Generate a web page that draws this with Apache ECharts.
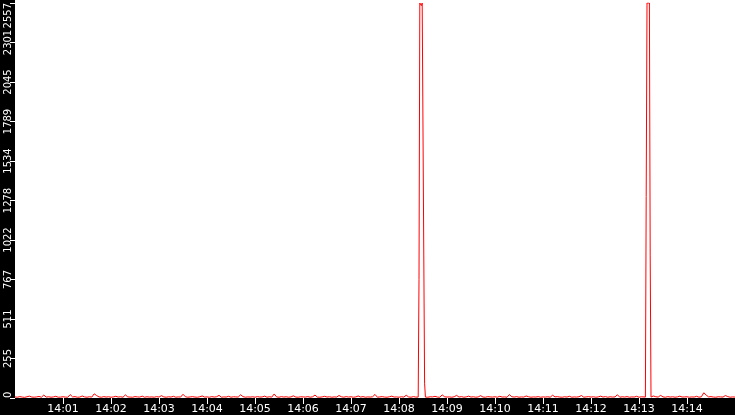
<!DOCTYPE html>
<html>
<head>
<meta charset="utf-8">
<script src="https://cdn.jsdelivr.net/npm/echarts@6/dist/echarts.min.js"></script>
<style>
  html, body { margin: 0; padding: 0; background: #fff; }
  #chart-container { width: 735px; height: 415px; }
</style>
</head>
<body>
<div id="chart-container"></div>
<script>
// x axis runs in seconds from 14:00:00 to 14:15:00
const xTickLabels = ['14:00', '14:01', '14:02', '14:03', '14:04', '14:05', '14:06', '14:07',
    '14:08', '14:09', '14:10', '14:11', '14:12', '14:13', '14:14', '14:15'];
const yTickLabels = ['0', '255', '511', '767', '1022', '1278', '1534', '1789', '2045', '2301', '2557'];

// baseline readings, one every 3 seconds from 14:00:00
const noiseStep = 3;
const noiseValues = [
    7, 5, 9, 6, 4, 8, 12, 6, 5, 7, 10, 5, 19, 6, 8, 5, 7, 11, 5, 6,
    8, 6, 5, 22, 7, 9, 5, 6, 13, 7, 5, 8, 6, 27, 16, 7, 5, 9, 6, 8,
    5, 7, 11, 6, 8, 5, 20, 7, 6, 5, 9, 7, 6, 12, 5, 8, 6, 7, 5, 9,
    6, 15, 7, 5, 8, 6, 11, 5, 7, 6, 24, 8, 5, 7, 9, 6, 5, 8, 13, 6,
    7, 5, 9, 6, 8, 17, 5, 7, 6, 11, 5, 8, 7, 6, 21, 9, 5, 7, 6, 8,
    5, 9, 6, 7, 12, 5, 8, 6, 26, 7, 5, 9, 6, 8, 5, 7, 14, 6, 5, 8,
    7, 6, 9, 5, 8, 19, 6, 5, 7, 11, 6, 8, 5, 7, 6, 16, 8, 5, 9, 6,
    8, 5, 7, 13, 6, 9, 5, 7, 6, 8, 23, 5, 7, 9, 6, 5, 8, 12, 6, 7,
    5, 8, 6, 18, 7, 5, 9, 6, 8, 5, 6, 7, 5, 8, 7, 11, 6, 5, 20, 8,
    6, 7, 5, 8, 17, 6, 9, 5, 7, 12, 6, 8, 5, 7, 15, 6, 5, 9, 7, 6,
    8, 5, 11, 6, 7, 5, 22, 8, 6, 9, 5, 7, 6, 13, 8, 5, 7, 6, 9, 5,
    7, 6, 8, 5, 18, 7, 9, 6, 5, 8, 6, 11, 5, 7, 6, 8, 16, 5, 7, 9,
    6, 8, 5, 7, 12, 6, 9, 5, 8, 6, 7, 21, 5, 8, 6, 9, 5, 7, 6, 11,
    5, 8, 6, 7, 9, 5, 13, 8, 6, 17, 7, 5, 9, 6, 8, 5, 7, 12, 6, 7,
    8, 5, 7, 6, 11, 5, 8, 34, 19, 7, 9, 6, 5, 8, 7, 6, 16, 9, 5, 7
];

// the two bursts, second by second
const burst1Secs = [504, 505, 506, 507, 508, 509, 510, 511, 512, 513];
const burst1Values = [6, 767, 2557, 2557, 2540, 2557, 2557, 2557, 96, 6];
const burst2Secs = [788, 789, 790, 791, 792, 793, 794, 795];
const burst2Values = [6, 1304, 2557, 2557, 2550, 2557, 920, 6];

const yMax = 2557;

let points = [];
const inBurst = (t) => (t >= 502 && t <= 515) || (t >= 786 && t <= 797);
noiseValues.forEach((v, i) => {
    const t = i * noiseStep;
    if (!inBurst(t)) points.push([t, v]);
});
points.push([900, 6]);
burst1Secs.forEach((t, i) => points.push([t, burst1Values[i]]));
burst2Secs.forEach((t, i) => points.push([t, burst2Values[i]]));
points.sort((a, b) => a[0] - b[0]);

const container = echarts.init(document.getElementById('chart-container'));

const cfg = {
    animation: false,
    backgroundColor: '#fff',
    // black bands behind the two axes
    graphic: [
        { type: 'rect', z: -10, silent: true, shape: { x: 0, y: 0, width: 15, height: 415 }, style: { fill: '#000' } },
        { type: 'rect', z: -10, silent: true, shape: { x: 0, y: 398, width: 735, height: 17 }, style: { fill: '#000' } }
    ],
    grid: {
        left: 15, right: 0, top: 0, bottom: 17
    },
    xAxis: {
        type: 'value',
        min: 0, max: 900, interval: 60,
        axisLine: { show: false },
        splitLine: { show: false },
        axisTick: { show: true, length: 6, lineStyle: { color: '#fff' } },
        axisLabel: {
            color: '#fff', fontFamily: 'DejaVu Sans', fontSize: 11, margin: 6,
            showMinLabel: false, showMaxLabel: false,
            formatter: (v) => xTickLabels[Math.round(v / 60)]
        }
    },
    yAxis: {
        type: 'value',
        min: 0, max: yMax, interval: yMax / 10,
        axisLine: { show: false },
        splitLine: { show: false },
        axisTick: { show: true, length: 5, lineStyle: { color: '#fff' } },
        axisLabel: {
            color: '#fff', fontFamily: 'DejaVu Sans', fontSize: 10,
            rotate: 90, margin: 7, hideOverlap: false,
            align: 'center', verticalAlign: 'middle',
            alignMinLabel: 'left', alignMaxLabel: 'right',
            formatter: (v, idx) => yTickLabels[idx]
        }
    },
    series: [{
        type: 'line',
        data: points,
        symbol: 'none',
        lineStyle: { color: '#ff0000', width: 1 }
    }]
};

container.setOption(cfg);
</script>
</body>
</html>
